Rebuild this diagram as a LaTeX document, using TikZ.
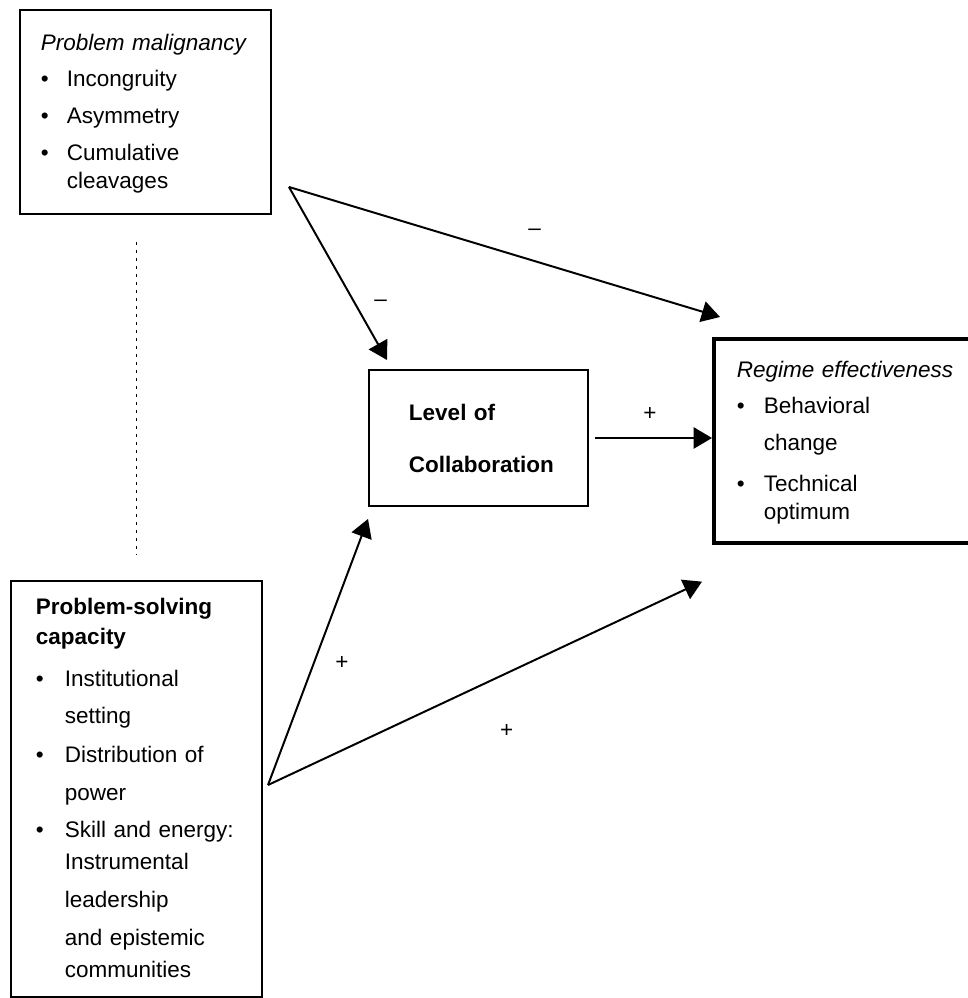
\documentclass[tikz,border=0pt]{standalone}
\usepackage{fontspec}
\setmainfont{Liberation Sans}
\usetikzlibrary{arrows.meta,calc,positioning}

\begin{document}
\begin{tikzpicture}[
    >={Triangle[length=13pt,width=15pt]},
    every node/.style={font=\fontsize{16}{26}\selectfont},
    box/.style={
        draw,
        line width=1.4pt,
        anchor=north west,
        align=left
    },
    keybox/.style={
        box,
        line width=2.6pt
    },
    flow/.style={->, line width=1.4pt},
    link/.style={dash pattern=on 2pt off 3.7pt, line width=1.4pt},
    sign/.style={inner sep=1pt}
]
\useasboundingbox (0,0) rectangle (24.2,-24.95);

%------------------------------------------------
% Boxes
%------------------------------------------------
\node[box, inner xsep=0.525cm, text width=5.225cm, minimum height=5.1cm]
    (malig) at (0.475,-0.225) {%
    \begin{tabular}{@{}p{0.65cm}@{}l@{}}
    \multicolumn{2}{@{}l@{}}{\itshape Problem malignancy}\\
    \textbullet & Incongruity\\
    \textbullet & Asymmetry\\
    \textbullet & Cumulative\\[-6pt]
                & cleavages
    \end{tabular}};

\node[box, inner xsep=1.0cm, text width=3.475cm, minimum height=3.4cm,
      font=\fontsize{16}{26}\selectfont\bfseries]
    (collab) at (9.2,-9.225) {Level of\\[11pt]Collaboration};

\node[keybox, inner xsep=0.575cm, text width=6.35cm, minimum height=5.1cm]
    (regime) at (17.8,-8.425) {%
    \begin{tabular}{@{}p{0.675cm}@{}l@{}}
    \multicolumn{2}{@{}l@{}}{\itshape Regime effectiveness}\\
    \textbullet & Behavioral\\
                & change\\[3pt]
    \textbullet & Technical\\[-6pt]
                & optimum
    \end{tabular}};

\node[box, inner xsep=0.625cm, text width=5.025cm, minimum height=10.4cm]
    (psc) at (0.25,-14.5) {%
    \begin{tabular}{@{}p{0.725cm}@{}l@{}}
    \multicolumn{2}{@{}l@{}}{\bfseries Problem-solving}\\[-5pt]
    \multicolumn{2}{@{}l@{}}{\bfseries capacity}\\[4pt]
    \textbullet & Institutional\\
                & setting\\[2pt]
    \textbullet & Distribution of\\[1pt]
                & power\\
    \textbullet & Skill and energy:\\[-3pt]
                & Instrumental\\[1pt]
                & leadership\\[1pt]
                & and epistemic\\[-3pt]
                & communities
    \end{tabular}};

%------------------------------------------------
% Arrow start points
%------------------------------------------------
\coordinate (malig-out) at ($(malig.south east)+(0.425,0.7)$);
\coordinate (psc-out)   at (6.7,-19.625);

%------------------------------------------------
% Arrows and signs
%------------------------------------------------
\draw[flow] (malig-out) --
    node[pos=0.67, xshift=0.65cm, sign] {–}
    ($(collab.north west)+(0.475,0.225)$);

\draw[flow] (malig-out) --
    node[pos=0.57, yshift=0.72cm, sign] {–}
    ($(regime.north west)+(0.2,0.5)$);

\draw[flow] ([xshift=0.15cm]collab.east) --
    node[pos=0.47, yshift=0.6cm, sign] {+}
    (regime.west |- collab.east);

\draw[flow] (psc-out) --
    node[pos=0.46, xshift=0.7cm, sign] {+}
    ($(collab.south west)+(0,-0.3)$);

\draw[flow] (psc-out) --
    node[pos=0.55, yshift=-1.45cm, sign] {+}
    ($(regime.south west)+(-0.25,-0.925)$);

% dotted link between the two drivers
\draw[link] ([yshift=-0.675cm]malig.south -| psc.north) --
    ([yshift=0.625cm]psc.north);

\end{tikzpicture}
\end{document}
